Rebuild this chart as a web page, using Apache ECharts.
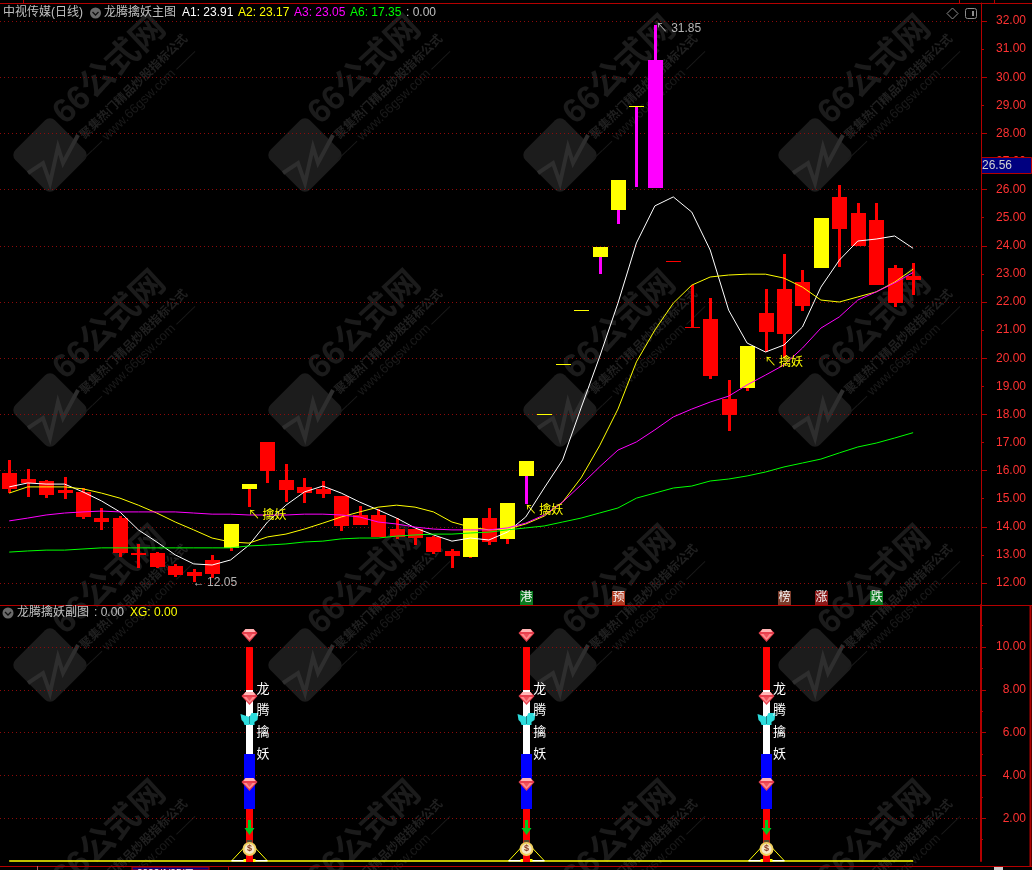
<!DOCTYPE html>
<html><head><meta charset="utf-8">
<style>html,body{margin:0;padding:0;background:#000;overflow:hidden}#c{width:1032px;height:870px}</style>
<script src="https://cdn.jsdelivr.net/npm/echarts@6/dist/echarts.min.js"></script>
</head><body><div id="c"></div>
<script>
const categories = Array.from({length:53},(_,i)=>String(i));
const highs  = [16.38,16.06,15.67,15.77,15.38,14.67,14.38,13.39,13.10,12.68,12.50,13.00,14.10,15.52,17.02,16.23,15.74,15.63,15.10,14.74,14.63,14.31,13.92,13.67,13.21,14.31,14.67,14.85,16.34,18.01,19.79,21.72,23.96,26.34,28.98,31.85,23.46,22.60,22.14,19.22,20.43,22.46,23.71,23.14,24.99,26.16,25.52,25.52,23.32,23.39];
const tops   = [15.91,15.70,15.63,15.31,15.24,14.31,14.31,13.07,13.07,12.60,12.39,12.82,14.10,15.52,17.02,15.67,15.42,15.35,15.10,14.42,14.42,13.92,13.92,13.64,13.14,14.31,14.31,14.85,16.34,18.01,19.79,21.72,23.96,26.34,28.98,30.61,23.46,21.11,21.40,18.55,20.43,21.61,22.46,22.71,24.99,25.74,25.17,24.92,23.21,22.93];
const bottoms= [15.35,15.56,15.13,15.20,14.35,14.17,13.07,13.00,12.57,12.28,12.25,12.32,13.25,15.35,15.99,15.31,15.20,15.17,14.03,14.06,13.64,13.64,13.60,13.10,12.96,12.93,13.46,13.57,15.81,18.01,19.79,21.72,23.60,25.27,28.98,26.06,23.46,21.11,19.37,17.98,18.94,20.93,20.86,21.86,23.21,24.60,23.99,22.60,21.96,22.78];
const lows   = [15.20,15.06,15.02,14.99,14.28,13.89,12.93,12.53,12.53,12.21,12.05,12.18,13.14,14.70,15.56,14.88,14.85,15.02,13.85,14.06,13.64,13.57,13.35,13.03,12.53,12.89,13.35,13.39,14.81,18.01,19.79,21.72,23.00,24.78,26.09,26.06,23.46,21.11,19.26,17.41,18.83,20.22,20.01,21.68,23.21,23.25,23.99,22.60,21.82,22.25];
// r: red, y: yellow body + red wick, p: yellow body + magenta wick, m: magenta, d: yellow dash, x: red dash
const kinds = ["r","r","r","r","r","r","r","r","r","r","r","r","y","y","r","r","r","r","r","r","r","r","r","r","r","y","r","y","p","d","d","d","p","p","p","m","x","r","r","r","y","r","r","r","y","r","r","r","r","r"];
const a1 = [15.42,15.56,15.52,15.52,15.24,14.92,14.53,13.89,13.46,13.00,12.68,12.64,12.82,13.35,14.17,14.77,15.24,15.45,15.20,14.88,14.60,14.31,13.96,13.71,13.49,13.60,13.53,13.81,14.35,15.38,16.38,18.23,20.04,21.96,24.10,25.42,25.74,25.20,23.85,21.71,20.54,20.22,20.47,21.11,22.53,23.49,24.17,24.24,24.35,23.91];
const a2 = [15.20,15.42,15.42,15.42,15.35,15.20,15.02,14.77,14.49,14.17,13.89,13.60,13.46,13.42,13.64,13.74,13.92,14.13,14.35,14.53,14.70,14.77,14.70,14.53,14.17,13.99,13.89,13.92,14.10,14.38,14.88,15.74,16.88,18.19,19.87,21.00,21.96,22.60,22.89,22.96,22.99,22.99,22.85,22.53,22.07,22.00,22.18,22.36,22.71,23.17];
const a3 = [14.21,14.31,14.42,14.49,14.53,14.56,14.53,14.53,14.53,14.53,14.49,14.45,14.45,14.42,14.42,14.42,14.45,14.45,14.42,14.35,14.17,14.10,13.99,13.92,13.89,13.89,13.89,13.96,14.13,14.42,14.88,15.49,16.13,16.73,17.02,17.45,17.91,18.19,18.44,18.65,19.05,19.40,19.76,20.36,21.07,21.47,22.07,22.36,22.68,23.05];
const a6 = [13.10,13.14,13.17,13.17,13.21,13.25,13.25,13.25,13.25,13.25,13.25,13.25,13.25,13.32,13.35,13.39,13.46,13.49,13.57,13.60,13.60,13.67,13.71,13.74,13.74,13.78,13.81,13.89,13.96,14.03,14.17,14.31,14.49,14.67,15.02,15.20,15.38,15.45,15.63,15.70,15.81,15.95,16.13,16.27,16.41,16.63,16.84,16.98,17.16,17.35];
const xg = Array(50).fill(0);
const priceTicks = [12,14,16,18,20,22,24,26,28,30];
const priceTickEnds = [32];
const priceLabels = [12,13,14,15,16,17,18,19,20,21,22,23,24,25,26,27,28,29,30,31,32];
const priceOdd = [13,15,17,19,21,23,25,27,29,31];
const subTicks = [2,4,6,8,10];
const subOdd = [1,3,5,7,9,11];
const annoIdx = [13,28,41,10,35];
const annoVal = [14.39,14.56,19.83,12.00,31.72];
const annoText = ["↖\u2009擒妖","↖\u2009擒妖","↖\u2009擒妖","←\u200912.05","↖ 31.85"];
const annoColor = ["#ffff00","#ffff00","#ffff00","#b4b4b4","#b4b4b4"];
const tagIdx = [28,33,42,44,47];
const tagText = ["港","预","榜","涨","跌"];
const tagColor = ["#0a7a20","#b03a20","#7a3b2a","#8a1a1a","#0a7a20"];
const tagValue = 11.47;
const signalIdx = [13,28,41];
const segFrom = [10,8,5,2.43];
const segTo = [8,5,2.43,0];
const segColor = ["#ff0000","#ffffff","#0000ff","#ff0000"];
const segWide = [false,false,true,false];
const gemVals = [10.56,7.62,3.6];
const butterflyVal = 6.64;
const arrowVal = 1.54;
const bagVal = 0.56;
const triangleTop = 0.6;
const nameChars = ["龙","腾","擒","妖"];
const nameVals = [8.04,7.03,5.99,5.0];

const CJK = "'Liberation Sans','Noto Sans CJK SC',sans-serif";
const AXIS = '#b40000', GRID='#8c0a0a';
const bandCount = categories.length, step = 18.47;
const gridLeft = -1.235, gridW = bandCount*step, axisOff = 981 - (gridLeft+gridW);

function candleItem(params, api){
  const i=api.value(0), k=kinds[params.dataIndex];
  const cx=Math.round(api.coord([i,0])[0]);
  const yH=Math.round(api.coord([i,api.value(1)])[1]), yT=Math.round(api.coord([i,api.value(2)])[1]),
        yB=Math.round(api.coord([i,api.value(3)])[1]), yL=Math.round(api.coord([i,api.value(4)])[1]);
  const wickC = (k==='p'||k==='m')?'#ff00ff':'#ff0000';
  const bodyC = k==='r'||k==='x'?'#ff0000':k==='m'?'#ff00ff':'#ffff00';
  const ch=[];
  if(yL>yH) ch.push({type:'rect',shape:{x:cx-1,y:yH,width:3,height:yL-yH},style:{fill:wickC}});
  ch.push({type:'rect',shape:{x:cx-7,y:yT,width:15,height:Math.max(1,yB-yT)},style:{fill:bodyC}});
  return {type:'group',children:ch};
}
function textItem(params, api){
  const i=params.dataIndex, p=api.coord([api.value(0),api.value(1)]);
  return {type:'text',x:p[0]+(i===4?1:-1),y:p[1],style:{text:annoText[i],fill:annoColor[i],font:'12px '+CJK,align:'left',verticalAlign:'middle'}};
}
function tagItem(params, api){
  const i=params.dataIndex, p=api.coord([api.value(0),api.value(1)]);
  return {type:'group',children:[
    {type:'rect',shape:{x:Math.round(p[0])-6,y:Math.round(p[1])-7,width:13,height:14},style:{fill:tagColor[i]}},
    {type:'text',x:p[0]+.5,y:p[1],style:{text:tagText[i],fill:'#f4f4f4',font:'12px '+CJK,align:'center',verticalAlign:'middle'}}
  ]};
}
function segItem(params, api){
  const i=params.dataIndex%segFrom.length;
  const cx=Math.round(api.coord([api.value(0),0])[0]);
  const y0=Math.round(api.coord([api.value(0),api.value(1)])[1]), y1=Math.round(api.coord([api.value(0),api.value(2)])[1]);
  const w=segWide[i]?11:7;
  return {type:'rect',shape:{x:cx-Math.floor(w/2),y:y0,width:w,height:y1-y0},style:{fill:segColor[i]}};
}
function gemItem(params, api){
  const p=api.coord([api.value(0),api.value(1)]);
  return {type:'group',x:Math.round(p[0])+.5,y:Math.round(p[1]),children:[
    {type:'polygon',shape:{points:[[-8,-2],[-4,-6],[4,-6],[8,-2],[0,7]]},style:{fill:'#e9404e'}},
    {type:'polygon',shape:{points:[[-4,-6],[4,-6],[6,-3],[-6,-3]]},style:{fill:'#ffb4b4'}},
    {type:'polygon',shape:{points:[[-6,-1],[6,-1],[0,5]]},style:{fill:'#ff8a8f'}},
    {type:'polygon',shape:{points:[[-3,-1],[3,-1],[0,3]]},style:{fill:'#f0525c'}}
  ]};
}
function butterflyItem(params, api){
  const p=api.coord([api.value(0),api.value(1)]);
  return {type:'group',x:Math.round(p[0])+.5,y:Math.round(p[1]),children:[
    {type:'polygon',shape:{points:[[0,-2],[-9,-5],[-8,1],[-6,3],[-5,6],[0,6]]},style:{fill:'#2cdcdc'}},
    {type:'polygon',shape:{points:[[0,-2],[2,-6],[9,-6],[8,1],[5,3],[5,6],[0,6]]},style:{fill:'#2cdcdc'}},
    {type:'rect',shape:{x:-.5,y:-3,width:1,height:8},style:{fill:'#1a8088'}}
  ]};
}
function arrowItem(params, api){
  const p=api.coord([api.value(0),api.value(1)]);
  return {type:'group',x:Math.round(p[0])+.5,y:Math.round(p[1]),children:[
    {type:'rect',shape:{x:-1.5,y:-8,width:3,height:9},style:{fill:'#00c81e'}},
    {type:'polygon',shape:{points:[[-5,0],[5,0],[0,7]]},style:{fill:'#00c81e'}}
  ]};
}
function bagItem(params, api){
  const p=api.coord([api.value(0),api.value(1)]);
  return {type:'group',x:Math.round(p[0])+.5,y:Math.round(p[1]),children:[
    {type:'rect',shape:{x:-3,y:-9,width:6,height:4},style:{fill:'#5a4a30'}},
    {type:'circle',shape:{cx:0,cy:0,r:7},style:{fill:'#f0d060'}},
    {type:'circle',shape:{cx:0,cy:0,r:5},style:{fill:'#f6e9c8'}},
    {type:'text',x:0,y:0,style:{text:'$',fill:'#8a3a20',font:'bold 9px '+CJK,align:'center',verticalAlign:'middle'}}
  ]};
}
function baseItem(params, api){
  const c=api.coord([api.value(0),0]), t=api.coord([api.value(0),api.value(1)]);
  const cx=Math.round(c[0])+.5, y0=c[1], y1=t[1];
  const L='#ffff00', lw=1;
  return {type:'group',children:[
    {type:'polyline',shape:{points:[[cx-18,y0],[cx-6,y1]]},style:{stroke:L,lineWidth:lw,fill:null}},
    {type:'polyline',shape:{points:[[cx+18,y0],[cx+6,y1]]},style:{stroke:L,lineWidth:lw,fill:null}},
    {type:'rect',shape:{x:cx-18,y:y0-1,width:36,height:1.5},style:{fill:'#ffffff'}},
    {type:'rect',shape:{x:cx-6,y:y0-2,width:12,height:3},style:{fill:'#ffff00'}},
    {type:'rect',shape:{x:cx-3.5,y:y0-3,width:7,height:4},style:{fill:'#ff0000'}}
  ]};
}
function nameItem(params, api){
  const p=api.coord([api.value(0),api.value(1)]);
  return {type:'text',x:p[0]+14,y:p[1],style:{text:nameChars[params.dataIndex%4],fill:'#ffffff',font:'13px '+CJK,align:'center',verticalAlign:'middle'}};
}

function yAxisCfg(gridIndex,min,max,opts){
  return Object.assign({type:'value',gridIndex,min,max,position:'right',offset:axisOff,
    axisLine:{show:true,onZero:false,lineStyle:{color:AXIS,width:1}},
    axisTick:{show:true,length:6,lineStyle:{color:AXIS}},
    axisLabel:{show:false},splitLine:{show:false}},opts||{});
}
const mainMin=11.217, mainMax=32.641, subMin=0, subMax=11.963;
const lab = (vals)=>({show:true,customValues:vals,color:'#ff3232',fontSize:12,fontFamily:'Liberation Sans',align:'right',margin:45,padding:[5,0,0,0],formatter:v=>Number(v).toFixed(2)});
const gridLine = {show:true,lineStyle:{color:GRID,type:[1,3],width:1}};

function lineSeries(name,data,color){
  return {name,type:'line',xAxisIndex:0,yAxisIndex:0,data,showSymbol:false,symbol:'none',smooth:false,clip:false,lineStyle:{color,width:1},silent:true};
}
const zip = (a,b)=>a.map((v,i)=>[v,b[i]]);
const signalEach = (vals)=>signalIdx.flatMap(i=>vals.map(v=>[i,v]));

// watermark + frame
const graphicEls=[];
const d2r=Math.PI/180;
[50,305,560,815].forEach(lx=>[155,410,665,920].forEach(ly=>{
  graphicEls.push({type:'group',x:lx,y:ly,z:-10,silent:true,children:[
    {type:'rect',rotation:45*d2r,shape:{x:-28,y:-28,width:56,height:56,r:7},style:{fill:'#1c1c1c'}},
    {type:'polyline',shape:{points:[[-22,18],[-7,8],[0,28],[8,-8],[13,8],[28,-20]]},style:{stroke:'#2e2e2e',lineWidth:4,fill:null}},
    {type:'text',x:60,y:-84,rotation:43*d2r,style:{text:'66公式网',fill:'#1b1b1b',font:'bold 34px '+CJK,align:'center',verticalAlign:'middle'}},
    {type:'text',x:84,y:-68,rotation:44*d2r,style:{text:'聚集热门精品炒股指标公式',fill:'#202020',font:'bold 12px '+CJK,align:'center',verticalAlign:'middle'}},
    {type:'text',x:89,y:-50,rotation:44*d2r,style:{text:'—— www.66gsw.com ——',fill:'#1a1a1a',font:'13px '+CJK,align:'center',verticalAlign:'middle'}}
  ]});
}));
const hline=(y,x0,x1,c,w)=>({type:'line',shape:{x1:x0,y1:y,x2:x1,y2:y},style:{stroke:c||AXIS,lineWidth:w||1},silent:true,z:20});
const vline=(x,y0,y1,c,w)=>({type:'line',shape:{x1:x,y1:y0,x2:x,y2:y1},style:{stroke:c||AXIS,lineWidth:w||1},silent:true,z:20});
graphicEls.push(hline(3.5,0,1032),hline(605.5,0,1032),hline(866.5,0,1032),vline(1030.5,605,867,AXIS,2),
  vline(23.5,0,3),vline(959.5,0,3),vline(994.5,0,3),vline(228.5,866,870),vline(37.5,866,870,'#b06060'));
graphicEls.push({type:'rect',shape:{x:132,y:867,width:77,height:3},style:{fill:'#000080',stroke:'#b40000',lineWidth:1},z:20});
graphicEls.push({type:'text',x:137,y:874,style:{text:'2022/1/25/二',fill:'#ffffff',font:'10px '+CJK,align:'left',verticalAlign:'middle'},z:21});
graphicEls.push({type:'rect',shape:{x:994,y:867,width:9,height:3},style:{fill:'#cccccc'},z:21});
// price tag
graphicEls.push({type:'rect',shape:{x:981.5,y:157.5,width:50,height:16},style:{fill:'#000080',stroke:AXIS,lineWidth:1},z:21});
graphicEls.push({type:'text',x:982,y:166,style:{text:'26.56',fill:'#d0d0d0',font:'12px '+CJK,align:'left',verticalAlign:'middle'},z:22});
// header
const hdr=[[3,13,'中视传媒(日线)','#c0c0c0'],[104,13,'龙腾擒妖主图','#c0c0c0'],[182,13,'A1: 23.91','#ffffff'],[238,13,'A2: 23.17','#ffff00'],[294,13,'A3: 23.05','#ff00ff'],[350,13,'A6: 17.35','#00ff00'],[406,13,': 0.00','#c0c0c0'],
           [17,613,'龙腾擒妖副图','#c0c0c0'],[94,613,': 0.00','#c0c0c0'],[130,613,'XG: 0.00','#ffff00']];
hdr.forEach(h=>graphicEls.push({type:'text',x:h[0],y:h[1],style:{text:h[2],fill:h[3],font:'12px '+CJK,align:'left',verticalAlign:'middle'},z:22}));
[[95.5,13],[8,613]].forEach(c=>{
  graphicEls.push({type:'circle',shape:{cx:c[0],cy:c[1],r:5.5},style:{fill:'#6a6a6a'},z:22});
  graphicEls.push({type:'polyline',shape:{points:[[c[0]-3,c[1]-1],[c[0],c[1]+2],[c[0]+3,c[1]-1]]},style:{stroke:'#111',lineWidth:1.3,fill:null},z:23});
});
graphicEls.push({type:'polygon',shape:{points:[[952.5,8],[958,13.5],[952.5,19],[947,13.5]]},style:{fill:null,stroke:'#8c8c8c',lineWidth:1},z:22});
graphicEls.push({type:'rect',shape:{x:965.5,y:8.5,width:11,height:10,r:2},style:{fill:null,stroke:'#8c8c8c',lineWidth:1},z:22});
graphicEls.push({type:'rect',shape:{x:972,y:11,width:2,height:5},style:{fill:'#8c8c8c'},z:22});

const option={
  backgroundColor:'#000',animation:false,
  graphic:{elements:graphicEls},
  grid:[{left:gridLeft,top:3,width:gridW,height:602,containLabel:false},{left:gridLeft,top:605,width:gridW,height:256,containLabel:false}],
  xAxis:[0,1].map(g=>({type:'category',gridIndex:g,data:categories,boundaryGap:true,axisLine:{show:false},axisTick:{show:false},axisLabel:{show:false},splitLine:{show:false}})),
  yAxis:[
    yAxisCfg(0,mainMin,mainMax,{axisTick:{show:true,length:6,customValues:priceTicks.concat(priceTickEnds),lineStyle:{color:AXIS}},axisLabel:lab(priceLabels),splitLine:gridLine}),
    yAxisCfg(0,mainMin,mainMax,{axisLine:{show:false},axisTick:{show:true,length:3,customValues:priceOdd,lineStyle:{color:AXIS}}}),
    yAxisCfg(1,subMin,subMax,{axisLine:{show:true,onZero:false,lineStyle:{color:AXIS,width:2}},axisTick:{show:true,length:5,customValues:subTicks,lineStyle:{color:AXIS}},axisLabel:lab(subTicks),splitLine:gridLine}),
    yAxisCfg(1,subMin,subMax,{axisLine:{show:false},axisTick:{show:true,length:2,customValues:subOdd,lineStyle:{color:AXIS}}})
  ],
  series:[
    {type:'custom',xAxisIndex:0,yAxisIndex:0,silent:true,z:3,renderItem:candleItem,encode:{x:0,y:[1,2,3,4]},
     data:highs.map((h,i)=>[i,h,tops[i],bottoms[i],lows[i]])},
    lineSeries('A1',a1,'#ffffff'),lineSeries('A2',a2,'#ffff00'),lineSeries('A3',a3,'#ff00ff'),lineSeries('A6',a6,'#00ff00'),
    {type:'custom',xAxisIndex:0,yAxisIndex:0,silent:true,z:5,renderItem:textItem,encode:{x:0,y:1},data:zip(annoIdx,annoVal)},
    {type:'custom',xAxisIndex:0,yAxisIndex:0,silent:true,z:5,renderItem:tagItem,encode:{x:0,y:1},data:tagIdx.map(i=>[i,tagValue])},
    {type:'line',xAxisIndex:1,yAxisIndex:2,data:xg,showSymbol:false,symbol:'none',clip:false,silent:true,z:3,lineStyle:{color:'#ffff00',width:1.4}},
    {type:'custom',xAxisIndex:1,yAxisIndex:2,silent:true,z:4,renderItem:baseItem,encode:{x:0,y:1},data:signalIdx.map(i=>[i,triangleTop])},
    {type:'custom',xAxisIndex:1,yAxisIndex:2,silent:true,z:5,renderItem:segItem,encode:{x:0,y:[1,2]},
     data:signalIdx.flatMap(i=>segFrom.map((f,k)=>[i,f,segTo[k]]))},
    {type:'custom',xAxisIndex:1,yAxisIndex:2,silent:true,z:6,renderItem:gemItem,encode:{x:0,y:1},data:signalEach(gemVals)},
    {type:'custom',xAxisIndex:1,yAxisIndex:2,silent:true,z:6,renderItem:butterflyItem,encode:{x:0,y:1},data:signalEach([butterflyVal])},
    {type:'custom',xAxisIndex:1,yAxisIndex:2,silent:true,z:6,renderItem:arrowItem,encode:{x:0,y:1},data:signalEach([arrowVal])},
    {type:'custom',xAxisIndex:1,yAxisIndex:2,silent:true,z:6,renderItem:bagItem,encode:{x:0,y:1},data:signalEach([bagVal])},
    {type:'custom',xAxisIndex:1,yAxisIndex:2,silent:true,z:6,renderItem:nameItem,encode:{x:0,y:1},data:signalEach(nameVals)}
  ]
};
const chart=echarts.init(document.getElementById('c'),null,{renderer:'canvas',width:1032,height:870});
chart.setOption(option);
</script></body></html>
